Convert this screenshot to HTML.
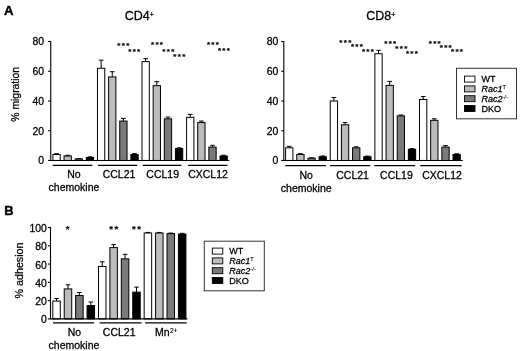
<!DOCTYPE html>
<html lang="en">
<head>
<meta charset="utf-8">
<title>Figure</title>
<style>
html,body{margin:0;padding:0;background:#fff;}
body{width:520px;height:351px;overflow:hidden;}
svg{display:block;will-change:transform;transform:translateZ(0);}
svg text{font-family:"Liberation Sans", Arial, sans-serif;fill:#000;stroke:#000;stroke-width:0.28px;stroke-linejoin:round;}
svg text.b{stroke-width:0.42px;}
svg text.st{stroke-width:0.22px;}
</style>
</head>
<body>
<svg width="520" height="351" viewBox="0 0 520 351">
<rect width="520" height="351" fill="#fff"/>
<text x="3.9" y="14.6" font-size="13.2" text-anchor="start" font-weight="bold" class="b">A</text>
<text x="124.7" y="20.3" font-size="12.5" text-anchor="start" >CD4<tspan font-size="7" dy="-3.0">+</tspan></text>
<text x="366.3" y="20.3" font-size="12.5" text-anchor="start" >CD8<tspan font-size="7" dy="-3.0">+</tspan></text>
<path d="M56.55 154.50V153.61M54.25 153.61H58.85" stroke="#000" stroke-width="1" fill="none"/>
<rect x="52.90" y="154.50" width="7.30" height="5.94" fill="#ffffff" stroke="#000" stroke-width="1"/>
<path d="M67.69 155.99V155.25M65.39 155.25H69.99" stroke="#000" stroke-width="1" fill="none"/>
<rect x="64.04" y="155.99" width="7.30" height="4.46" fill="#bcbcbc" stroke="#000" stroke-width="1"/>
<path d="M78.83 158.96V158.52M76.53 158.52H81.13" stroke="#000" stroke-width="1" fill="none"/>
<rect x="75.18" y="158.96" width="7.30" height="1.49" fill="#7a7a7a" stroke="#000" stroke-width="1"/>
<path d="M89.97 157.48V156.88M87.67 156.88H92.27" stroke="#000" stroke-width="1" fill="none"/>
<rect x="86.32" y="157.48" width="7.30" height="2.97" fill="#000000" stroke="#000" stroke-width="1"/>
<path d="M101.11 68.30V60.13M98.81 60.13H103.41" stroke="#000" stroke-width="1" fill="none"/>
<rect x="97.46" y="68.30" width="7.30" height="92.15" fill="#ffffff" stroke="#000" stroke-width="1"/>
<path d="M112.25 76.92V71.72M109.95 71.72H114.55" stroke="#000" stroke-width="1" fill="none"/>
<rect x="108.60" y="76.92" width="7.30" height="83.53" fill="#bcbcbc" stroke="#000" stroke-width="1"/>
<path d="M123.39 121.06V118.39M121.09 118.39H125.69" stroke="#000" stroke-width="1" fill="none"/>
<rect x="119.74" y="121.06" width="7.30" height="39.39" fill="#7a7a7a" stroke="#000" stroke-width="1"/>
<path d="M134.53 154.50V153.61M132.23 153.61H136.83" stroke="#000" stroke-width="1" fill="none"/>
<rect x="130.88" y="154.50" width="7.30" height="5.94" fill="#000000" stroke="#000" stroke-width="1"/>
<path d="M145.67 61.61V58.64M143.37 58.64H147.97" stroke="#000" stroke-width="1" fill="none"/>
<rect x="142.02" y="61.61" width="7.30" height="98.84" fill="#ffffff" stroke="#000" stroke-width="1"/>
<path d="M156.81 85.69V81.68M154.51 81.68H159.11" stroke="#000" stroke-width="1" fill="none"/>
<rect x="153.16" y="85.69" width="7.30" height="74.76" fill="#bcbcbc" stroke="#000" stroke-width="1"/>
<path d="M167.95 118.83V117.05M165.65 117.05H170.25" stroke="#000" stroke-width="1" fill="none"/>
<rect x="164.30" y="118.83" width="7.30" height="41.61" fill="#7a7a7a" stroke="#000" stroke-width="1"/>
<path d="M179.09 148.56V147.82M176.79 147.82H181.39" stroke="#000" stroke-width="1" fill="none"/>
<rect x="175.44" y="148.56" width="7.30" height="11.89" fill="#000000" stroke="#000" stroke-width="1"/>
<path d="M190.23 117.35V114.38M187.93 114.38H192.53" stroke="#000" stroke-width="1" fill="none"/>
<rect x="186.58" y="117.35" width="7.30" height="43.10" fill="#ffffff" stroke="#000" stroke-width="1"/>
<path d="M201.37 122.55V121.06M199.07 121.06H203.67" stroke="#000" stroke-width="1" fill="none"/>
<rect x="197.72" y="122.55" width="7.30" height="37.90" fill="#bcbcbc" stroke="#000" stroke-width="1"/>
<path d="M212.51 147.07V145.29M210.21 145.29H214.81" stroke="#000" stroke-width="1" fill="none"/>
<rect x="208.86" y="147.07" width="7.30" height="13.38" fill="#7a7a7a" stroke="#000" stroke-width="1"/>
<path d="M223.65 155.99V155.25M221.35 155.25H225.95" stroke="#000" stroke-width="1" fill="none"/>
<rect x="220.00" y="155.99" width="7.30" height="4.46" fill="#000000" stroke="#000" stroke-width="1"/>
<path d="M50.75 40.9V160.45H229.3" stroke="#000" stroke-width="1.1" fill="none"/>
<path d="M48.15 41.55H50.75" stroke="#000" stroke-width="1.1"/>
<text x="44.0" y="45.49" font-size="10.4" text-anchor="end">80</text>
<path d="M48.15 71.27499999999999H50.75" stroke="#000" stroke-width="1.1"/>
<text x="44.0" y="75.22" font-size="10.4" text-anchor="end">60</text>
<path d="M48.15 101.0H50.75" stroke="#000" stroke-width="1.1"/>
<text x="44.0" y="104.94" font-size="10.4" text-anchor="end">40</text>
<path d="M48.15 130.725H50.75" stroke="#000" stroke-width="1.1"/>
<text x="44.0" y="134.67" font-size="10.4" text-anchor="end">20</text>
<path d="M48.15 160.45H50.75" stroke="#000" stroke-width="1.1"/>
<text x="44.0" y="164.39" font-size="10.4" text-anchor="end">0</text>
<path d="M52.7 165.3H92.3" stroke="#000" stroke-width="1.15"/>
<path d="M97.9 165.3H137.2" stroke="#000" stroke-width="1.15"/>
<path d="M142.7 165.3H181.4" stroke="#000" stroke-width="1.15"/>
<path d="M187.9 165.3H227.5" stroke="#000" stroke-width="1.15"/>
<text x="74" y="178.4" font-size="10.5" text-anchor="middle" >No</text>
<text x="74" y="191.3" font-size="10.5" text-anchor="middle" >chemokine</text>
<text x="119" y="178.4" font-size="10.5" text-anchor="middle" >CCL21</text>
<text x="162.7" y="178.4" font-size="10.5" text-anchor="middle" >CCL19</text>
<text x="208" y="178.4" font-size="10.5" text-anchor="middle" >CXCL12</text>
<text transform="translate(18.7,94.3) rotate(-90)" font-size="10.4" text-anchor="middle">% migration</text>
<text x="123.95" y="48.26" font-size="8.0" font-weight="bold" class="st" text-anchor="middle" letter-spacing="1.3">***</text>
<text x="134.85" y="53.56" font-size="8.0" font-weight="bold" class="st" text-anchor="middle" letter-spacing="1.3">***</text>
<text x="157.65" y="47.36" font-size="8.0" font-weight="bold" class="st" text-anchor="middle" letter-spacing="1.3">***</text>
<text x="168.95" y="53.56" font-size="8.0" font-weight="bold" class="st" text-anchor="middle" letter-spacing="1.3">***</text>
<text x="179.95" y="58.96" font-size="8.0" font-weight="bold" class="st" text-anchor="middle" letter-spacing="1.3">***</text>
<text x="213.55" y="46.86" font-size="8.0" font-weight="bold" class="st" text-anchor="middle" letter-spacing="1.3">***</text>
<text x="224.55" y="53.16" font-size="8.0" font-weight="bold" class="st" text-anchor="middle" letter-spacing="1.3">***</text>
<path d="M289.25 147.82V146.33M286.95 146.33H291.55" stroke="#000" stroke-width="1" fill="none"/>
<rect x="285.60" y="147.82" width="7.30" height="12.63" fill="#ffffff" stroke="#000" stroke-width="1"/>
<path d="M300.41 154.50V153.61M298.11 153.61H302.71" stroke="#000" stroke-width="1" fill="none"/>
<rect x="296.76" y="154.50" width="7.30" height="5.94" fill="#bcbcbc" stroke="#000" stroke-width="1"/>
<path d="M311.57 158.22V157.77M309.27 157.77H313.87" stroke="#000" stroke-width="1" fill="none"/>
<rect x="307.92" y="158.22" width="7.30" height="2.23" fill="#7a7a7a" stroke="#000" stroke-width="1"/>
<path d="M322.73 156.73V155.99M320.43 155.99H325.03" stroke="#000" stroke-width="1" fill="none"/>
<rect x="319.08" y="156.73" width="7.30" height="3.72" fill="#000000" stroke="#000" stroke-width="1"/>
<path d="M333.89 101.00V97.58M331.59 97.58H336.19" stroke="#000" stroke-width="1" fill="none"/>
<rect x="330.24" y="101.00" width="7.30" height="59.45" fill="#ffffff" stroke="#000" stroke-width="1"/>
<path d="M345.05 124.78V122.55M342.75 122.55H347.35" stroke="#000" stroke-width="1" fill="none"/>
<rect x="341.40" y="124.78" width="7.30" height="35.67" fill="#bcbcbc" stroke="#000" stroke-width="1"/>
<path d="M356.21 147.82V146.78M353.91 146.78H358.51" stroke="#000" stroke-width="1" fill="none"/>
<rect x="352.56" y="147.82" width="7.30" height="12.63" fill="#7a7a7a" stroke="#000" stroke-width="1"/>
<path d="M367.37 156.73V156.14M365.07 156.14H369.67" stroke="#000" stroke-width="1" fill="none"/>
<rect x="363.72" y="156.73" width="7.30" height="3.72" fill="#000000" stroke="#000" stroke-width="1"/>
<path d="M378.53 53.74V50.32M376.23 50.32H380.83" stroke="#000" stroke-width="1" fill="none"/>
<rect x="374.88" y="53.74" width="7.30" height="106.71" fill="#ffffff" stroke="#000" stroke-width="1"/>
<path d="M389.69 85.39V81.38M387.39 81.38H391.99" stroke="#000" stroke-width="1" fill="none"/>
<rect x="386.04" y="85.39" width="7.30" height="75.06" fill="#bcbcbc" stroke="#000" stroke-width="1"/>
<path d="M400.85 115.86V114.97M398.55 114.97H403.15" stroke="#000" stroke-width="1" fill="none"/>
<rect x="397.20" y="115.86" width="7.30" height="44.59" fill="#7a7a7a" stroke="#000" stroke-width="1"/>
<path d="M412.01 149.30V148.56M409.71 148.56H414.31" stroke="#000" stroke-width="1" fill="none"/>
<rect x="408.36" y="149.30" width="7.30" height="11.15" fill="#000000" stroke="#000" stroke-width="1"/>
<path d="M423.17 99.51V96.54M420.87 96.54H425.47" stroke="#000" stroke-width="1" fill="none"/>
<rect x="419.52" y="99.51" width="7.30" height="60.94" fill="#ffffff" stroke="#000" stroke-width="1"/>
<path d="M434.33 120.32V118.83M432.03 118.83H436.63" stroke="#000" stroke-width="1" fill="none"/>
<rect x="430.68" y="120.32" width="7.30" height="40.13" fill="#bcbcbc" stroke="#000" stroke-width="1"/>
<path d="M445.49 147.07V145.59M443.19 145.59H447.79" stroke="#000" stroke-width="1" fill="none"/>
<rect x="441.84" y="147.07" width="7.30" height="13.38" fill="#7a7a7a" stroke="#000" stroke-width="1"/>
<path d="M456.65 154.50V153.76M454.35 153.76H458.95" stroke="#000" stroke-width="1" fill="none"/>
<rect x="453.00" y="154.50" width="7.30" height="5.94" fill="#000000" stroke="#000" stroke-width="1"/>
<path d="M283.8 40.9V160.45H462.7" stroke="#000" stroke-width="1.1" fill="none"/>
<path d="M281.2 41.55H283.8" stroke="#000" stroke-width="1.1"/>
<text x="278.2" y="45.49" font-size="10.4" text-anchor="end">80</text>
<path d="M281.2 71.27499999999999H283.8" stroke="#000" stroke-width="1.1"/>
<text x="278.2" y="75.22" font-size="10.4" text-anchor="end">60</text>
<path d="M281.2 101.0H283.8" stroke="#000" stroke-width="1.1"/>
<text x="278.2" y="104.94" font-size="10.4" text-anchor="end">40</text>
<path d="M281.2 130.725H283.8" stroke="#000" stroke-width="1.1"/>
<text x="278.2" y="134.67" font-size="10.4" text-anchor="end">20</text>
<path d="M281.2 160.45H283.8" stroke="#000" stroke-width="1.1"/>
<text x="278.2" y="164.39" font-size="10.4" text-anchor="end">0</text>
<path d="M285.3 165.6H326" stroke="#000" stroke-width="1.15"/>
<path d="M330 165.6H370.3" stroke="#000" stroke-width="1.15"/>
<path d="M374.3 165.6H415.1" stroke="#000" stroke-width="1.15"/>
<path d="M420.3 165.6H461.7" stroke="#000" stroke-width="1.15"/>
<text x="306.2" y="178.6" font-size="10.5" text-anchor="middle" >No</text>
<text x="306.2" y="191.6" font-size="10.5" text-anchor="middle" >chemokine</text>
<text x="352.6" y="178.6" font-size="10.5" text-anchor="middle" >CCL21</text>
<text x="396.4" y="178.6" font-size="10.5" text-anchor="middle" >CCL19</text>
<text x="442" y="178.6" font-size="10.5" text-anchor="middle" >CXCL12</text>
<text x="345.95" y="44.56" font-size="8.0" font-weight="bold" class="st" text-anchor="middle" letter-spacing="1.3">***</text>
<text x="357.55" y="48.96" font-size="8.0" font-weight="bold" class="st" text-anchor="middle" letter-spacing="1.3">***</text>
<text x="368.55" y="54.26" font-size="8.0" font-weight="bold" class="st" text-anchor="middle" letter-spacing="1.3">***</text>
<text x="390.85" y="46.36" font-size="8.0" font-weight="bold" class="st" text-anchor="middle" letter-spacing="1.3">***</text>
<text x="401.95" y="51.06" font-size="8.0" font-weight="bold" class="st" text-anchor="middle" letter-spacing="1.3">***</text>
<text x="412.55" y="55.76" font-size="8.0" font-weight="bold" class="st" text-anchor="middle" letter-spacing="1.3">***</text>
<text x="435.35" y="46.36" font-size="8.0" font-weight="bold" class="st" text-anchor="middle" letter-spacing="1.3">***</text>
<text x="446.35" y="50.16" font-size="8.0" font-weight="bold" class="st" text-anchor="middle" letter-spacing="1.3">***</text>
<text x="457.65" y="53.96" font-size="8.0" font-weight="bold" class="st" text-anchor="middle" letter-spacing="1.3">***</text>
<rect x="456.5" y="68.3" width="60" height="50.5" fill="#fff" stroke="#333" stroke-width="1"/>
<rect x="464.5" y="76.1" width="10.5" height="6" fill="#ffffff" stroke="#000" stroke-width="0.9"/>
<text x="481.5" y="82.39999999999999" font-size="9">WT</text>
<rect x="464.5" y="85.89999999999999" width="10.5" height="6" fill="#bcbcbc" stroke="#000" stroke-width="0.9"/>
<text x="481.5" y="92.19999999999999" font-size="9"><tspan font-style="italic">Rac1</tspan><tspan font-size="5.5" dy="-3" stroke-width="0.1">T</tspan></text>
<rect x="464.5" y="95.69999999999999" width="10.5" height="6" fill="#7a7a7a" stroke="#000" stroke-width="0.9"/>
<text x="481.5" y="101.99999999999999" font-size="9"><tspan font-style="italic">Rac2</tspan><tspan font-size="5.5" dy="-3" stroke-width="0.1">-/-</tspan></text>
<rect x="464.5" y="105.5" width="10.5" height="6" fill="#000000" stroke="#000" stroke-width="0.9"/>
<text x="481.5" y="111.8" font-size="9">DKO</text>
<text x="4.3" y="215.0" font-size="12.9" text-anchor="start" font-weight="bold" class="b">B</text>
<path d="M56.55 301.08V298.52M54.25 298.52H58.85" stroke="#000" stroke-width="1" fill="none"/>
<rect x="52.80" y="301.08" width="7.50" height="17.82" fill="#ffffff" stroke="#000" stroke-width="1"/>
<path d="M67.97 288.92V284.81M65.67 284.81H70.27" stroke="#000" stroke-width="1" fill="none"/>
<rect x="64.22" y="288.92" width="7.50" height="29.98" fill="#bcbcbc" stroke="#000" stroke-width="1"/>
<path d="M79.39 295.50V292.49M77.09 292.49H81.69" stroke="#000" stroke-width="1" fill="none"/>
<rect x="75.64" y="295.50" width="7.50" height="23.40" fill="#7a7a7a" stroke="#000" stroke-width="1"/>
<path d="M90.81 305.56V301.99M88.51 301.99H93.11" stroke="#000" stroke-width="1" fill="none"/>
<rect x="87.06" y="305.56" width="7.50" height="13.34" fill="#000000" stroke="#000" stroke-width="1"/>
<path d="M102.23 266.44V261.87M99.93 261.87H104.53" stroke="#000" stroke-width="1" fill="none"/>
<rect x="98.48" y="266.44" width="7.50" height="52.46" fill="#ffffff" stroke="#000" stroke-width="1"/>
<path d="M113.65 247.61V244.59M111.35 244.59H115.95" stroke="#000" stroke-width="1" fill="none"/>
<rect x="109.90" y="247.61" width="7.50" height="71.29" fill="#bcbcbc" stroke="#000" stroke-width="1"/>
<path d="M125.07 258.85V254.28M122.77 254.28H127.37" stroke="#000" stroke-width="1" fill="none"/>
<rect x="121.32" y="258.85" width="7.50" height="60.05" fill="#7a7a7a" stroke="#000" stroke-width="1"/>
<path d="M136.49 292.12V287.09M134.19 287.09H138.79" stroke="#000" stroke-width="1" fill="none"/>
<rect x="132.74" y="292.12" width="7.50" height="26.78" fill="#000000" stroke="#000" stroke-width="1"/>
<path d="M147.91 232.98V232.44M145.61 232.44H150.21" stroke="#000" stroke-width="1" fill="none"/>
<rect x="144.16" y="232.98" width="7.50" height="85.92" fill="#ffffff" stroke="#000" stroke-width="1"/>
<path d="M159.33 232.98V232.44M157.03 232.44H161.63" stroke="#000" stroke-width="1" fill="none"/>
<rect x="155.58" y="232.98" width="7.50" height="85.92" fill="#bcbcbc" stroke="#000" stroke-width="1"/>
<path d="M170.75 233.62V233.08M168.45 233.08H173.05" stroke="#000" stroke-width="1" fill="none"/>
<rect x="167.00" y="233.62" width="7.50" height="85.28" fill="#7a7a7a" stroke="#000" stroke-width="1"/>
<path d="M182.17 234.08V233.35M179.87 233.35H184.47" stroke="#000" stroke-width="1" fill="none"/>
<rect x="178.42" y="234.08" width="7.50" height="84.82" fill="#000000" stroke="#000" stroke-width="1"/>
<path d="M50.5 227.0V318.9H187.4" stroke="#000" stroke-width="1.1" fill="none"/>
<path d="M47.9 227.49999999999997H50.5" stroke="#000" stroke-width="1.1"/>
<text x="46.8" y="231.94" font-size="10.4" text-anchor="end">100</text>
<path d="M47.9 245.77999999999997H50.5" stroke="#000" stroke-width="1.1"/>
<text x="46.8" y="250.22" font-size="10.4" text-anchor="end">80</text>
<path d="M47.9 264.05999999999995H50.5" stroke="#000" stroke-width="1.1"/>
<text x="46.8" y="268.50" font-size="10.4" text-anchor="end">60</text>
<path d="M47.9 282.34H50.5" stroke="#000" stroke-width="1.1"/>
<text x="46.8" y="286.78" font-size="10.4" text-anchor="end">40</text>
<path d="M47.9 300.62H50.5" stroke="#000" stroke-width="1.1"/>
<text x="46.8" y="305.06" font-size="10.4" text-anchor="end">20</text>
<path d="M47.9 318.9H50.5" stroke="#000" stroke-width="1.1"/>
<text x="46.8" y="323.34" font-size="10.4" text-anchor="end">0</text>
<path d="M53.0 322.9H94.1" stroke="#000" stroke-width="1.15"/>
<path d="M99.6 322.9H141.5" stroke="#000" stroke-width="1.15"/>
<path d="M145.2 322.9H186.6" stroke="#000" stroke-width="1.15"/>
<text x="74.4" y="336" font-size="10.5" text-anchor="middle" >No</text>
<text x="74" y="348.5" font-size="10.5" text-anchor="middle" >chemokine</text>
<text x="119.2" y="336" font-size="10.5" text-anchor="middle" >CCL21</text>
<text x="154.9" y="336" font-size="10.5" text-anchor="start" >Mn<tspan font-size="6.5" dy="-3.2" dx="0.5" stroke-width="0.15">2+</tspan></text>
<text transform="translate(22.5,270.5) rotate(-90)" font-size="10.7" text-anchor="middle">% adhesion</text>
<text x="68.50" y="231.97" font-size="9.5" font-weight="bold" class="st" text-anchor="middle" letter-spacing="1.6">*</text>
<text x="114.60" y="231.97" font-size="9.5" font-weight="bold" class="st" text-anchor="middle" letter-spacing="1.6">**</text>
<text x="137.30" y="231.97" font-size="9.5" font-weight="bold" class="st" text-anchor="middle" letter-spacing="1.6">**</text>
<rect x="204.3" y="241.2" width="60" height="49.6" fill="#fff" stroke="#333" stroke-width="1"/>
<rect x="212.3" y="248.1" width="10.5" height="6" fill="#ffffff" stroke="#000" stroke-width="0.9"/>
<text x="229.3" y="254.4" font-size="9">WT</text>
<rect x="212.3" y="257.90000000000003" width="10.5" height="6" fill="#bcbcbc" stroke="#000" stroke-width="0.9"/>
<text x="229.3" y="264.20000000000005" font-size="9"><tspan font-style="italic">Rac1</tspan><tspan font-size="5.5" dy="-3" stroke-width="0.1">T</tspan></text>
<rect x="212.3" y="267.70000000000005" width="10.5" height="6" fill="#7a7a7a" stroke="#000" stroke-width="0.9"/>
<text x="229.3" y="274.00000000000006" font-size="9"><tspan font-style="italic">Rac2</tspan><tspan font-size="5.5" dy="-3" stroke-width="0.1">-/-</tspan></text>
<rect x="212.3" y="277.5" width="10.5" height="6" fill="#000000" stroke="#000" stroke-width="0.9"/>
<text x="229.3" y="283.8" font-size="9">DKO</text>
</svg>
</body>
</html>
